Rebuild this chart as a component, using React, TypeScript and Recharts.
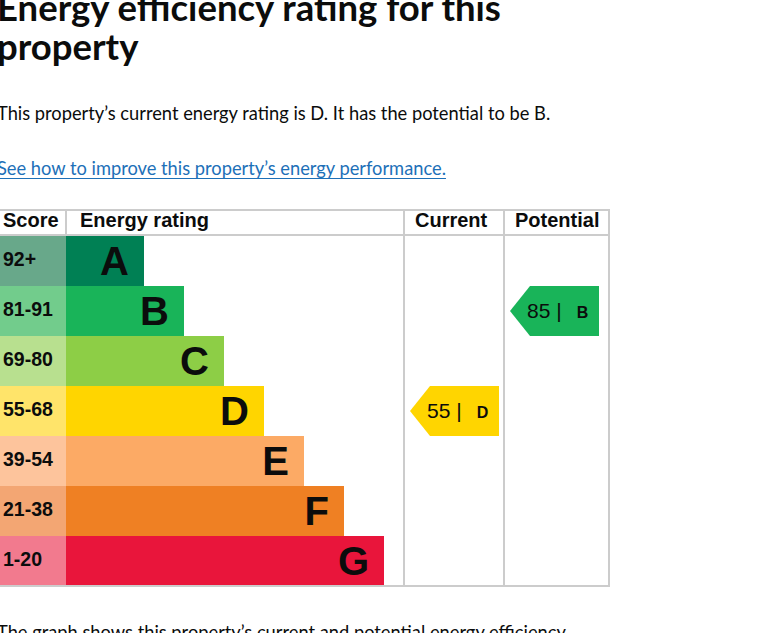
import React from 'react';
import { BarChart, Bar, XAxis, YAxis, LabelList, Cell } from 'recharts';

const bands = ['A', 'B', 'C', 'D', 'E', 'F', 'G'];
const scoreRanges = ['92+', '81-91', '69-80', '55-68', '39-54', '21-38', '1-20'];
const barLengths = [78, 118, 158, 198, 238, 278, 318]; // length of each band bar
const bandColors = ['#008054', '#19b459', '#8dce46', '#ffd500', '#fcaa65', '#ef8023', '#e9153b'];
const scoreColors = ['#68a88a', '#72cc8c', '#b8e08f', '#ffe46a', '#fdc49c', '#f3a673', '#f27a8e'];

const currentScore = 55;
const currentBand = 'D';
const potentialScore = 85;
const potentialBand = 'B';

const data = bands.map((band, i) => ({
  band,
  range: scoreRanges[i],
  length: barLengths[i],
  current: band === currentBand ? currentScore : null,
  potential: band === potentialBand ? potentialScore : null,
}));

const CHART_W = 612;
const CHART_H = 380;
const TOP = 28; // header row height
const SCORE_W = 66;
const RATING_W = 338;
const CURRENT_X = SCORE_W + RATING_W + 6;
const POTENTIAL_X = SCORE_W + RATING_W + 100 + 6;
const ARROW_W = 89;
const LINE = '#cccccc';
const FONT = 'Arial, "Liberation Sans", sans-serif';
const TEXT_FONT = 'Lato, sans-serif';

// score cell on the left, drawn as the y axis tick
function ScoreTick(props: any) {
  const { y, index } = props;
  const h = (CHART_H - TOP - 2) / bands.length;
  return (
    <g>
      <rect x={0} y={y - h / 2} width={SCORE_W} height={h} fill={scoreColors[index]} />
      <text x={3} y={y + 5} fontFamily={FONT} fontWeight="bold" fontSize={19.5} fill="#0b0c0c">
        {scoreRanges[index]}
      </text>
    </g>
  );
}

function BandLetter(props: any) {
  const { x, y, width, height, value } = props;
  return (
    <text x={x + width - 15} y={y + height / 2 + 14} textAnchor="end" fontFamily={FONT} fontWeight="bold" fontSize={40} fill="#0b0c0c">
      {value}
    </text>
  );
}

function makeArrow(left: number, key: 'current' | 'potential') {
  return function Arrow(props: any) {
    const { y, height, payload } = props;
    if (!payload || payload[key] == null) return null;
    const i = bands.indexOf(payload.band);
    const mid = y + height / 2;
    const pts = [
      [left, mid],
      [left + 20, y],
      [left + ARROW_W, y],
      [left + ARROW_W, y + height],
      [left + 20, y + height],
    ].map((p) => p.join(',')).join(' ');
    return (
      <g>
        <polygon points={pts} fill={bandColors[i]} />
        <text x={left + 17} y={mid + 7} fontFamily={FONT} fontSize={21} fill="#0b0c0c">
          {payload[key]} |
          <tspan dx={15} fontWeight="bold" fontSize={16}>{payload.band}</tspan>
        </text>
      </g>
    );
  };
}

const CurrentArrow = makeArrow(CURRENT_X, 'current');
const PotentialArrow = makeArrow(POTENTIAL_X, 'potential');

function Line({ x, y, w, h }: { x: number; y: number; w: number; h: number }) {
  return <div style={{ position: 'absolute', left: x, top: y, width: w, height: h, background: LINE }} />;
}

export default function App() {
  const gx = 0;
  const gy = 208;
  const head = { position: 'absolute' as const, top: gy + 1, fontFamily: FONT, fontWeight: 'bold' as const, fontSize: 20, color: '#0b0c0c' };
  return (
    <div style={{ position: 'absolute', left: 0, top: 0, width: 778, height: 633, overflow: 'hidden', background: '#fff', color: '#0b0c0c' }}>
      <div style={{ position: 'absolute', left: -3, top: -12, fontFamily: TEXT_FONT, fontWeight: 700, fontSize: 36.5, lineHeight: '39px', width: 560 }}>
        Energy efficiency rating for this property
      </div>
      <div style={{ position: 'absolute', left: -3, top: 102, fontFamily: TEXT_FONT, fontSize: 18.3 }}>
        This property’s current energy rating is D. It has the potential to be B.
      </div>
      <div style={{ position: 'absolute', left: -3, top: 157, fontFamily: TEXT_FONT, fontSize: 18.3, color: '#1d70b8', textDecoration: 'underline', textUnderlineOffset: 3 }}>
        See how to improve this property’s energy performance.
      </div>

      <div style={{ position: 'absolute', left: gx, top: gy }}>
        <BarChart
          width={CHART_W}
          height={CHART_H}
          data={data}
          layout="vertical"
          margin={{ top: TOP, right: CHART_W - SCORE_W - RATING_W, bottom: 2, left: 0 }}
          barCategoryGap={0}
        >
          <XAxis type="number" hide domain={[0, RATING_W]} />
          <YAxis type="category" dataKey="band" width={SCORE_W} axisLine={false} tickLine={false} tick={<ScoreTick />} interval={0} />
          <Bar dataKey="length" stackId="r" isAnimationActive={false}>
            {data.map((d, i) => (
              <Cell key={d.band} fill={bandColors[i]} />
            ))}
            <LabelList dataKey="band" content={<BandLetter />} />
          </Bar>
          <Bar dataKey="current" stackId="r" isAnimationActive={false} shape={<CurrentArrow />} />
          <Bar dataKey="potential" stackId="r" isAnimationActive={false} shape={<PotentialArrow />} />
        </BarChart>
      </div>

      {/* table frame */}
      <Line x={gx} y={gy + 1} w={610} h={2} />
      <Line x={gx} y={gy + 26} w={610} h={2} />
      <Line x={gx + SCORE_W - 1} y={gy + 1} w={2} h={27} />
      <Line x={gx + 403} y={gy + 1} w={2} h={378} />
      <Line x={gx + 503} y={gy + 1} w={2} h={378} />
      <Line x={gx + 608} y={gy + 1} w={2} h={378} />
      <Line x={gx} y={gy + 377} w={610} h={2} />
      <div style={{ ...head, left: 3 }}>Score</div>
      <div style={{ ...head, left: 80 }}>Energy rating</div>
      <div style={{ ...head, left: 415 }}>Current</div>
      <div style={{ ...head, left: 515 }}>Potential</div>

      <div style={{ position: 'absolute', left: -3, top: 621, fontFamily: TEXT_FONT, fontSize: 18.3 }}>
        The graph shows this property’s current and potential energy efficiency.
      </div>
    </div>
  );
}
